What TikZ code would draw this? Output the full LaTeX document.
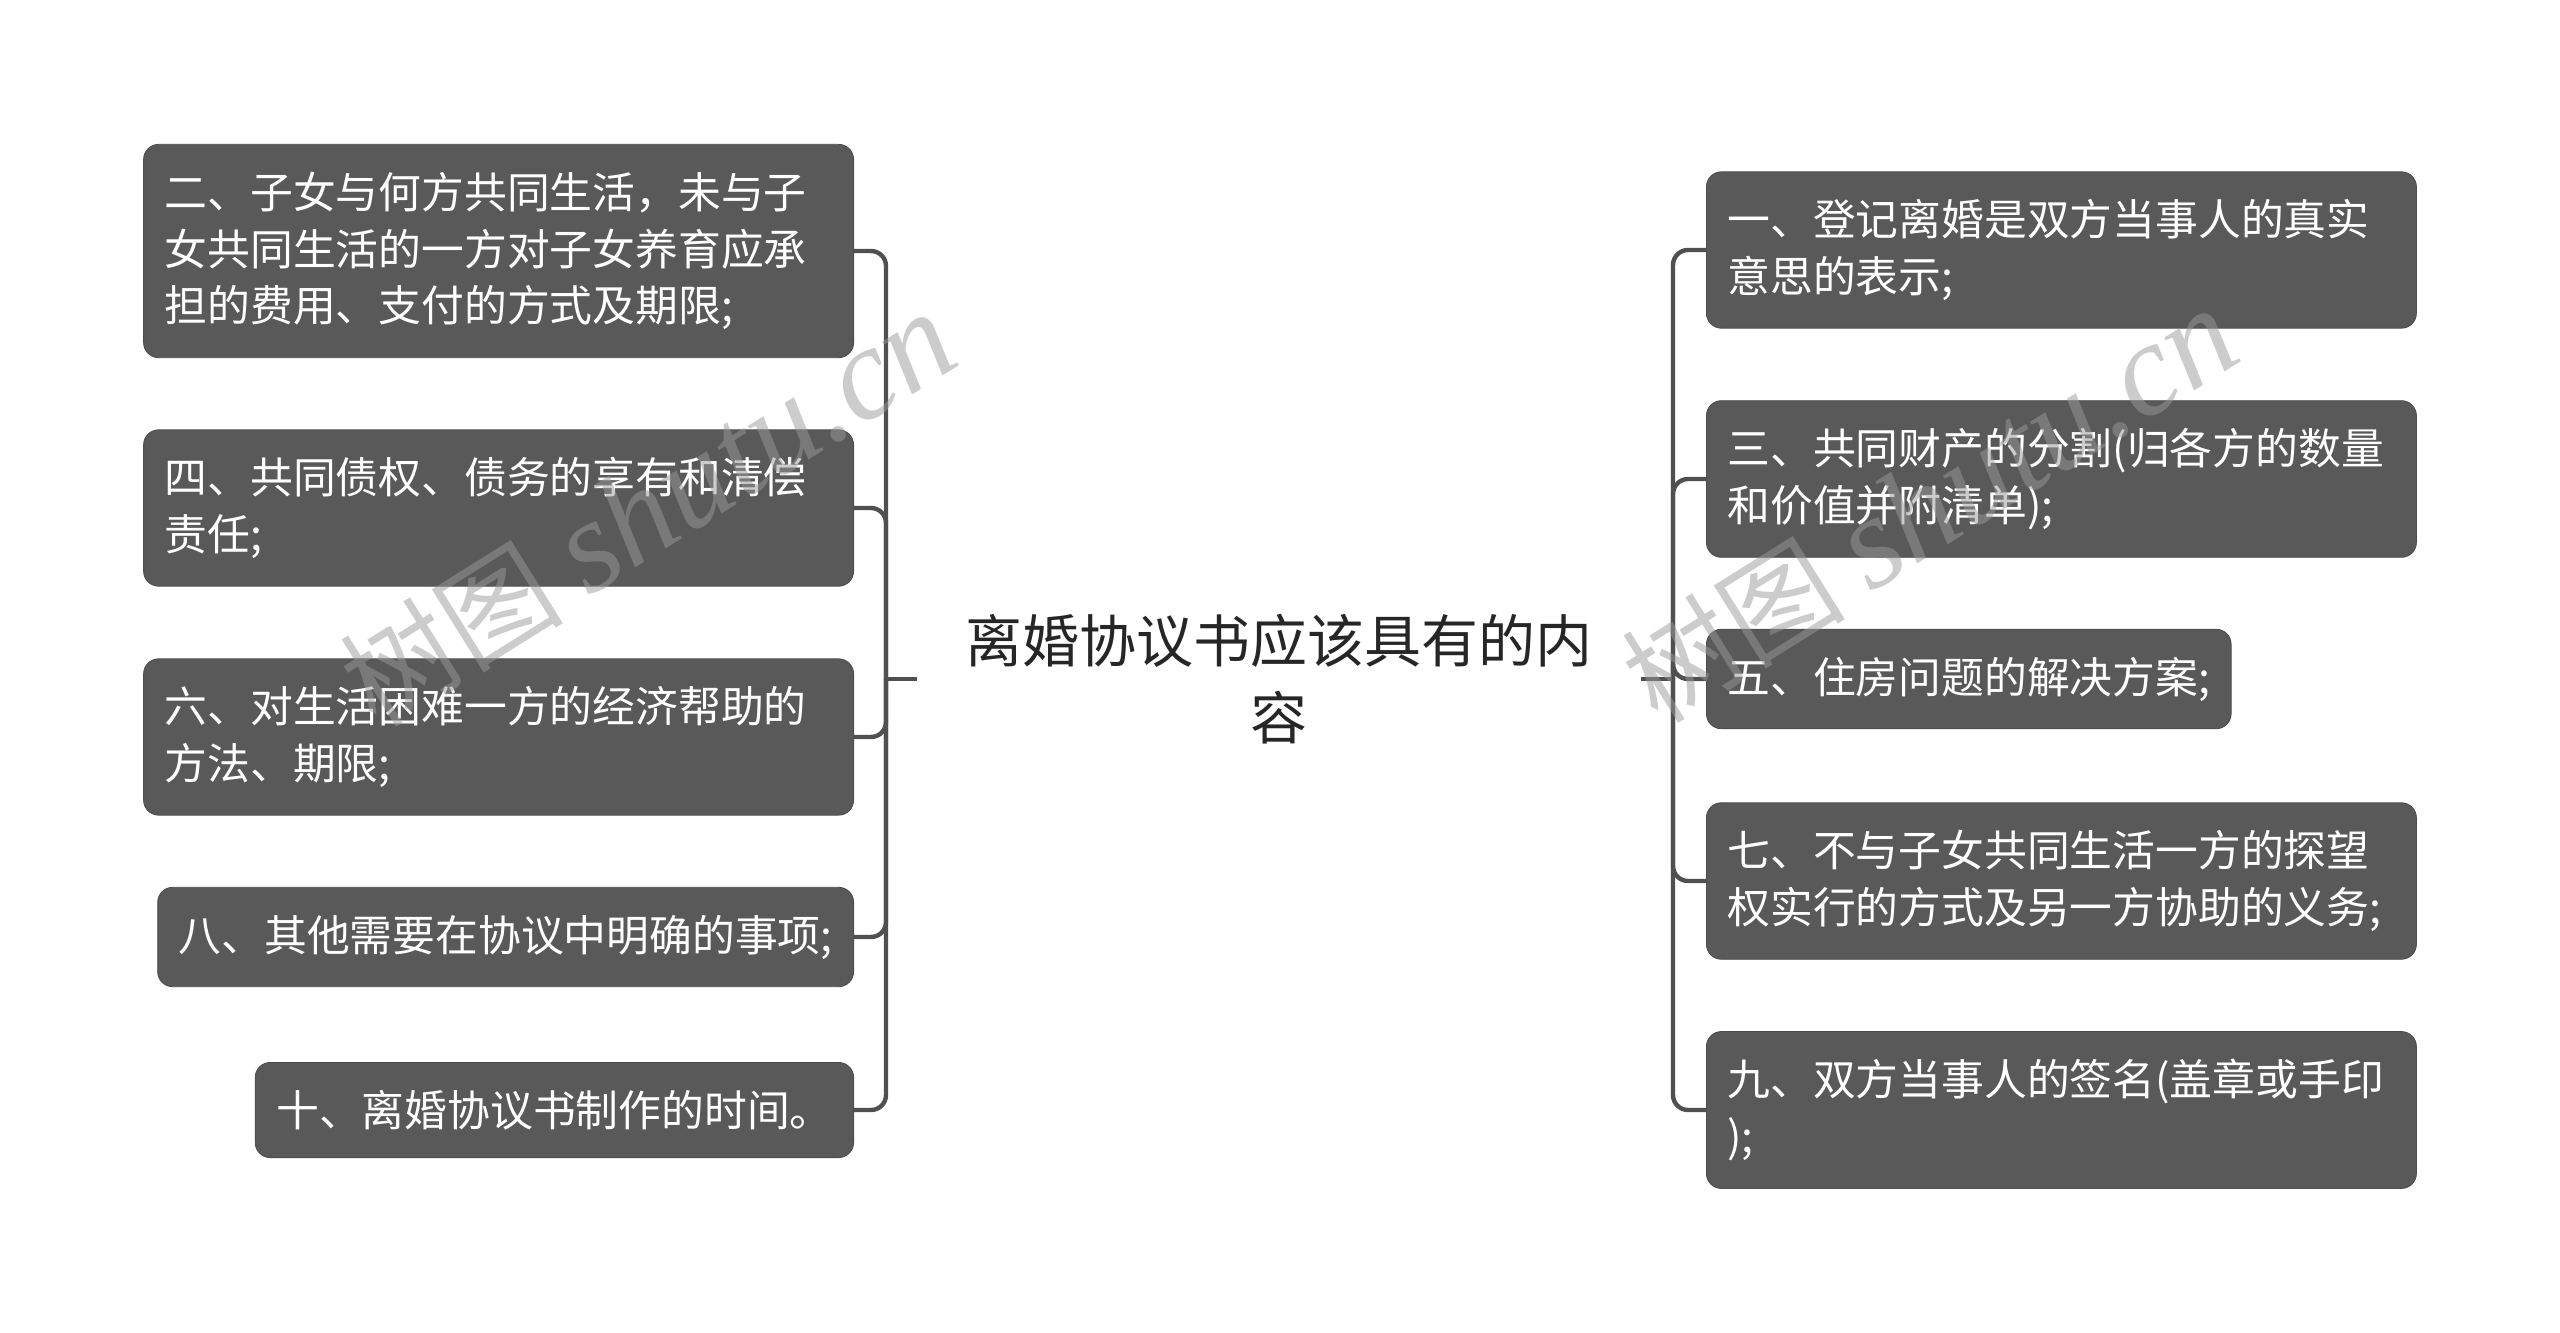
\documentclass[tikz,border=0pt]{standalone}
\usepackage{fontspec}
\setmainfont{Noto Sans CJK SC}
\newfontfamily\wmfont{Liberation Serif}
\usepackage{xcolor}
\usepackage{tikz}
\definecolor{boxgray}{HTML}{595959}
\definecolor{linegray}{HTML}{505050}
\definecolor{wmgray}{HTML}{9A9A9A}

\begin{document}
\begin{tikzpicture}[x=0.5pt,y=-0.5pt,
  item/.style={fill=boxgray,draw=boxgray!85!black,line width=0.4pt,rounded corners=7.5pt,
    text=white,align=left,inner xsep=10.5pt,inner ysep=13.8pt,
    font=\fontsize{21.4pt}{28.4pt}\selectfont},
  wide/.style={item,text width=334pt},
  link/.style={draw=linegray,line width=2.2pt,rounded corners=7.5pt},
  wmark/.style={rotate=32,text=wmgray,text opacity=0.5,inner sep=0pt}]
  \useasboundingbox (0,0) rectangle (2560,1333);
  % centre topic
  \node[font=\fontsize{28.5pt}{38.4pt}\selectfont,align=center,text=black!85,inner xsep=24pt] (topic) at (1279,679) {离婚协议书应该具有的内\\容};
  \coordinate (lj) at (886,679);
  \coordinate (rj) at (1673,679);
  % left branch
  \node[wide,anchor=east] (two) at (854,251) {二、子女与何方共同生活，未与子\\女共同生活的一方对子女养育应承\\担的费用、支付的方式及期限;};
  \node[wide,anchor=east] (four) at (854,508) {四、共同债权、债务的享有和清偿\\责任;};
  \node[wide,anchor=east] (six) at (854,737) {六、对生活困难一方的经济帮助的\\方法、期限;};
  \node[item,anchor=east] (eight) at (854,937) {八、其他需要在协议中明确的事项;};
  \node[item,anchor=east] (ten) at (854,1110) {十、离婚协议书制作的时间。};
  % right branch
  \node[wide,anchor=west] (one) at (1706,250) {一、登记离婚是双方当事人的真实\\意思的表示;};
  \node[wide,anchor=west] (three) at (1706,479) {三、共同财产的分割(归各方的数量\\和价值并附清单);};
  \node[item,anchor=west] (five) at (1706,679) {五、住房问题的解决方案;};
  \node[wide,anchor=west] (seven) at (1706,881) {七、不与子女共同生活一方的探望\\权实行的方式及另一方协助的义务;};
  \node[wide,anchor=west] (nine) at (1706,1110) {九、双方当事人的签名(盖章或手印\\);};
  % connectors
  \draw[link] (topic.west) -- (lj);
  \foreach \n in {two,four,six,eight,ten}
    \draw[link] (lj) |- (\n.east);
  \draw[link] (topic.east) -- (rj);
  \foreach \n in {one,three,five,seven,nine}
    \draw[link] (rj) |- (\n.west);
  % watermarks
  \node[wmark] (wmleft) at (648,510) {\fontsize{56pt}{56pt}\selectfont 树图 {\wmfont\itshape\fontsize{66pt}{66pt}\selectfont shutu.cn}};
  \node[wmark] (wmright) at (1930,506) {\fontsize{56pt}{56pt}\selectfont 树图 {\wmfont\itshape\fontsize{66pt}{66pt}\selectfont shutu.cn}};
\end{tikzpicture}
\end{document}
